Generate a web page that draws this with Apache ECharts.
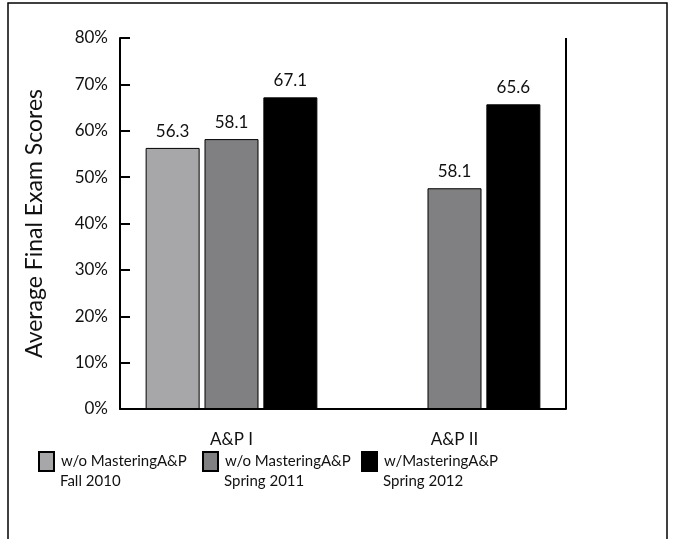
<!DOCTYPE html>
<html>
<head>
<meta charset="utf-8">
<script src="https://cdn.jsdelivr.net/npm/echarts@6/dist/echarts.min.js"></script>
<style>
html,body{margin:0;padding:0;background:#fff;}
#c{width:674px;height:539px;}
</style>
</head>
<body>
<div id="c"></div>
<script>
const categories = ['A&P I', 'A&P II'];
const seriesNames = ['w/o MasteringA&P\nFall 2010', 'w/o MasteringA&P\nSpring 2011', 'w/MasteringA&P\nSpring 2012'];
const fall2010 = [56.3, null];
const spring2011 = [58.2, 47.6];
const spring2012 = [67.2, 65.7];
const fall2010Labels = ['56.3', ''];
const spring2011Labels = ['58.1', '58.1'];
const spring2012Labels = ['67.1', '65.6'];
const yTicks = [0, 10, 20, 30, 40, 50, 60, 70, 80];

const FONT = 'Lato';
const colors = ['#a7a7a9', '#808082', '#000000'];
const values = [fall2010, spring2011, spring2012];
const labels = [fall2010Labels, spring2011Labels, spring2012Labels];
const legendLeft = [38, 202, 361];
const legendTop = 451;
const LEGEND_FS = 15;

const chart = echarts.init(document.getElementById('c'), null, {renderer: 'canvas'});
chart.setOption({
  animation: false,
  backgroundColor: '#fff',
  textStyle: {fontFamily: FONT},
  grid: {left: 120, right: 108, top: 38, bottom: 130},
  legend: seriesNames.map((n, i) => ({
    data: [n],
    left: legendLeft[i],
    top: legendTop,
    padding: 0,
    icon: 'rect',
    itemWidth: 15,
    itemHeight: 19,
    itemGap: 0,
    selectedMode: false,
    formatter: name => name.split('\n')[0],
    textStyle: {fontFamily: FONT, fontSize: LEGEND_FS, color: '#111', padding: [0, 0, 0, 2]}
  })),
  xAxis: {
    type: 'category',
    data: categories,
    axisLine: {lineStyle: {color: '#000', width: 2}},
    axisTick: {show: false},
    axisLabel: {fontFamily: FONT, fontSize: 17, color: '#111', margin: 22},
    splitLine: {show: true, interval: function (i) { return i === 1; }, lineStyle: {color: '#000', width: 2}}
  },
  yAxis: {
    type: 'value',
    min: yTicks[0],
    max: yTicks[yTicks.length - 1],
    interval: 10,
    name: 'Average Final Exam Scores',
    nameLocation: 'middle',
    nameGap: 74,
    nameTextStyle: {fontFamily: FONT, fontSize: 23, color: '#111'},
    axisLine: {show: true, lineStyle: {color: '#000', width: 2}},
    axisTick: {show: true, inside: true, length: 10, lineStyle: {color: '#000', width: 2}},
    axisLabel: {fontFamily: FONT, fontSize: 17, color: '#111', margin: 12, formatter: v => v + '%'},
    splitLine: {show: false}
  },
  series: seriesNames.map((n, i) => ({
    name: n,
    type: 'bar',
    data: values[i],
    barWidth: 54,
    barGap: '9%',
    itemStyle: {color: colors[i], borderColor: '#000', borderWidth: 1},
    label: {
      show: true, position: 'top', distance: 8,
      fontFamily: FONT, fontSize: 17, color: '#111',
      formatter: p => labels[i][p.dataIndex]
    }
  }))
});

const rect = chart.getModel().getComponent('grid').coordinateSystem.getRect();
const graphics = [{
  type: 'rect', silent: true,
  shape: {x: 8, y: 3, width: 659, height: 600},
  style: {fill: null, stroke: '#000', lineWidth: 1.5}
}, {
  type: 'line', silent: true,
  shape: {x1: rect.x + rect.width, y1: rect.y + rect.height, x2: rect.x + rect.width, y2: rect.y + rect.height - 7},
  style: {stroke: '#000', lineWidth: 2}
}];
seriesNames.forEach((n, i) => {
  graphics.push({
    type: 'text', silent: true,
    x: legendLeft[i] + 15 + 5 + 2, y: legendTop + 30,
    style: {text: n.split('\n')[1], fontFamily: FONT, fontSize: LEGEND_FS, fill: '#111', verticalAlign: 'middle', align: 'left'}
  });
});
chart.setOption({graphic: graphics});
</script>
</body>
</html>
